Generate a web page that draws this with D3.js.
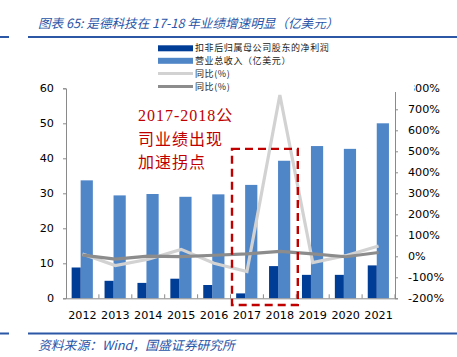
<!DOCTYPE html>
<html><head><meta charset="utf-8">
<script src="https://cdn.jsdelivr.net/npm/d3@7"></script>
<style>body{margin:0;background:#fff;}svg{display:block;}</style>
</head><body>
<svg id="c" width="457" height="357"></svg>
<script>
const years = ["2012","2013","2014","2015","2016","2017","2018","2019","2020","2021"];
const netProfit = [8.8, 5.0, 4.4, 5.6, 3.8, 1.4, 9.2, 6.7, 6.7, 9.4];
const revenue = [33.7, 29.4, 29.8, 29.0, 29.7, 32.4, 39.3, 43.5, 42.7, 50.0];
const profitYoY = [11, -44, -14, 33, -33, -73, 768, -30, 3, 49];
const revenueYoY = [6, -13, 1, -2, 5, 12, 23, 12, -2, 18];
const leftTicks = [0,10,20,30,40,50,60];
const rightTicks = [-200,-100,0,100,200,300,400,500,600,700,800];
const legendLabels = ["扣非后归属母公司股东的净利润","营业总收入（亿美元）","同比(%)","同比(%)"];
const titleText = "图表 65:  是德科技在 17-18 年业绩增速明显（亿美元）";
const sourceText = "资料来源：Wind，国盛证券研究所";
const noteLines = ["2017-2018公","司业绩出现","加速拐点"];
const boxYears = ["2017","2018"];
const boxRange = [42.7, -1.9];

const svg = d3.select("#c");
const blue = "#2b57a5";
const dark = "#003d96", light = "#4f86c8", lg = "#d2d2d2", dg = "#8c8c8c", red = "#c00000";
const axisCol = "#8a8a8a";

const x = d3.scaleBand().domain(years).range([66, 395]);
const yL = d3.scaleLinear().domain([0, 60]).range([298.3, 88.3]);
const yR = d3.scaleLinear().domain([-200, 800]).range([298.3, 88.3]);

// title & rules
svg.append("text").attr("x", 38).attr("y", 28).attr("fill", "#2a55a8")
  .attr("font-family", "'Noto Sans CJK SC', sans-serif").attr("font-style", "italic")
  .attr("font-size", 12.6).text(titleText);
[[37],[333.5]].forEach(([yy]) => {
  svg.append("rect").attr("x", 0).attr("y", yy-1).attr("width", 9).attr("height", 2).attr("fill", blue);
  svg.append("rect").attr("x", 28).attr("y", yy-1).attr("width", 429).attr("height", 2).attr("fill", blue);
});
svg.append("text").attr("x", 38).attr("y", 350).attr("fill", "#2a55a8")
  .attr("font-family", "'Noto Sans CJK SC', sans-serif").attr("font-style", "italic")
  .attr("font-size", 12.8).text(sourceText);

// bars
const c = d => x(d) + x.bandwidth()/2;
svg.append("g").selectAll("rect").data(years).join("rect")
  .attr("x", d => c(d) - 1.8).attr("width", 12.2)
  .attr("y", (d,i) => yL(revenue[i])).attr("height", (d,i) => yL(0) - yL(revenue[i]))
  .attr("fill", light);
svg.append("g").selectAll("rect").data(years).join("rect")
  .attr("x", d => c(d) - 10.8).attr("width", 9)
  .attr("y", (d,i) => yL(netProfit[i])).attr("height", (d,i) => yL(0) - yL(netProfit[i]))
  .attr("fill", dark);

// axes
const fontAx = "'DejaVu Sans', Verdana, sans-serif";
const gL = svg.append("g").attr("transform", "translate(66,0)")
  .call(d3.axisLeft(yL).tickValues(leftTicks).tickSize(3).tickPadding(9));
const gR = svg.append("g").attr("transform", "translate(395,0)")
  .call(d3.axisRight(yR).tickValues(rightTicks).tickSize(3).tickPadding(10).tickFormat(d => d + "%"));
const gB = svg.append("g").attr("transform", `translate(0,${yL(0)})`)
  .call(d3.axisBottom(x).tickSize(0).tickPadding(13));
[gL, gR, gB].forEach(g => {
  g.selectAll("path").attr("stroke", axisCol);
  g.selectAll("line").attr("stroke", axisCol);
  g.selectAll("text").attr("fill", "#000").attr("font-family", fontAx).attr("font-size", 11.2);
});
// category separators (inside ticks)
svg.append("g").selectAll("line").data(years.slice(1).concat(["end"])).join("line")
  .attr("x1", (d,i) => x(years[0]) + x.bandwidth()*(i+1)).attr("x2", (d,i) => x(years[0]) + x.bandwidth()*(i+1))
  .attr("y1", yL(0)).attr("y2", yL(0) - 4).attr("stroke", axisCol);

// lines
const line = arr => d3.line().x((d,i) => c(years[i])).y(d => yR(d))(arr);
svg.append("path").attr("d", line(profitYoY)).attr("fill", "none").attr("stroke", lg).attr("stroke-width", 3.2).attr("stroke-linejoin", "miter");
svg.append("path").attr("d", line(revenueYoY)).attr("fill", "none").attr("stroke", dg).attr("stroke-width", 3.2);

// legend
svg.append("rect").attr("x", 150).attr("y", 39).attr("width", 264).attr("height", 53).attr("fill", "#fff");
const legY = [48.3, 60.8, 73.5, 86.5];
legendLabels.forEach((t, i) => {
  if (i < 2) svg.append("rect").attr("x", 158).attr("y", legY[i]-3).attr("width", 35).attr("height", 6)
     .attr("fill", i === 0 ? dark : light);
  else svg.append("line").attr("x1", 158).attr("x2", 193).attr("y1", legY[i]).attr("y2", legY[i])
     .attr("stroke", i === 2 ? lg : dg).attr("stroke-width", 3);
  svg.append("text").attr("x", 195).attr("y", legY[i]).attr("dy", "0.35em")
     .attr("font-family", "'Noto Sans CJK SC', sans-serif").attr("font-size", 9).attr("fill", "#222")
     .attr("letter-spacing", 0.6).text(t);
});

// annotation
const note = svg.append("text").attr("fill", red).attr("font-family", "'Liberation Serif', 'Noto Sans CJK SC', serif")
  .attr("font-size", 16).attr("letter-spacing", 1);
noteLines.forEach((t, i) => note.append("tspan").attr("x", 138).attr("y", 121 + i*23.5).text(t));
svg.append("rect")
  .attr("x", x(boxYears[0]) + 1.5).attr("y", yL(boxRange[0]))
  .attr("width", x(boxYears[1]) + x.bandwidth() - x(boxYears[0]))
  .attr("height", yL(boxRange[1]) - yL(boxRange[0]))
  .attr("fill", "none").attr("stroke", red).attr("stroke-width", 2.4).attr("stroke-dasharray", "8,5");
</script>
</body></html>
